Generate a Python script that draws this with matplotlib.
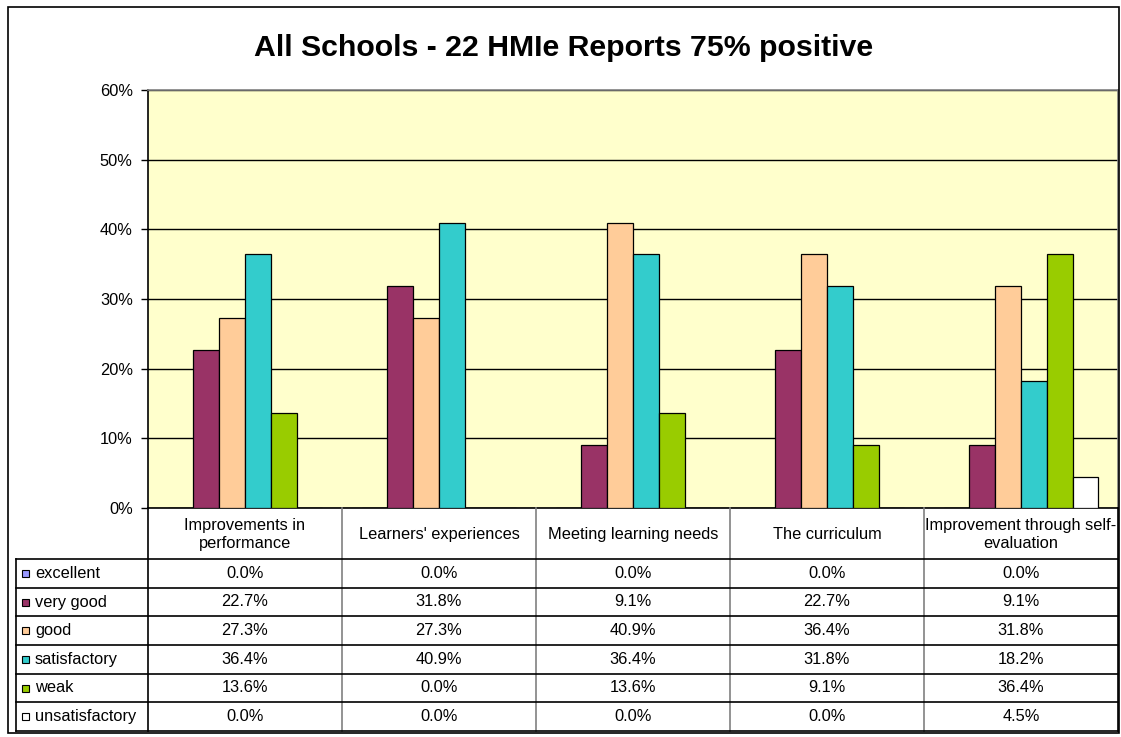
import matplotlib.pyplot as plt
from matplotlib.patches import Rectangle

plt.rcParams['font.family'] = ['Liberation Sans', 'DejaVu Sans']

# data
categories = ["Improvements in\nperformance", "Learners' experiences", "Meeting learning needs",
              "The curriculum", "Improvement through self-\nevaluation"]
grades = ["excellent", "very good", "good", "satisfactory", "weak", "unsatisfactory"]
excellent = [0.0, 0.0, 0.0, 0.0, 0.0]
very_good = [22.7, 31.8, 9.1, 22.7, 9.1]
good = [27.3, 27.3, 40.9, 36.4, 31.8]
satisfactory = [36.4, 40.9, 36.4, 31.8, 18.2]
weak = [13.6, 0.0, 13.6, 9.1, 36.4]
unsatisfactory = [0.0, 0.0, 0.0, 0.0, 4.5]
series = [excellent, very_good, good, satisfactory, weak, unsatisfactory]
colors = ["#9999FF", "#993366", "#FFCC99", "#33CCCC", "#99CC00", "#FFFFFF"]
title = "All Schools - 22 HMIe Reports 75% positive"

W, H = 1121, 737
fig = plt.figure(figsize=(W / 100, H / 100), dpi=100)
FS = 11.8

# plot area
left, right, top, bottom = 148, 1118, 90, 508
ax = fig.add_axes([left / W, 1 - bottom / H, (right - left) / W, (bottom - top) / H])
ax.set_facecolor("#FFFFCC")
n = len(categories)
bw = 0.133
for j, vals in enumerate(series):
    xs = [i + 0.5 + (j - 2.5) * bw for i in range(n)]
    ax.bar(xs, vals, width=bw, color=colors[j], edgecolor="black", linewidth=0.9, zorder=3)
ax.set_xlim(0, n)
ax.set_ylim(0, 60)
ax.set_yticks(range(0, 61, 10))
ax.set_yticklabels([f"{t}%" for t in range(0, 61, 10)], fontsize=FS)
ax.set_xticks([])
ax.yaxis.grid(True, color="black", linewidth=1, zorder=1)
ax.tick_params(axis="y", length=5, width=1, direction="out", pad=6)
ax.spines["left"].set_color("black")
ax.spines["bottom"].set_color("black")
ax.spines["top"].set_color("#808080")
ax.spines["right"].set_color("#808080")
for s in ax.spines.values():
    s.set_linewidth(1.2)

# overlay for title, table, border (pixel coords)
tax = fig.add_axes([0, 0, 1, 1], zorder=5)
tax.set_xlim(0, W)
tax.set_ylim(H, 0)
tax.axis("off")
tax.patch.set_alpha(0)

tax.add_patch(Rectangle((8, 7), 1111, 726, fill=False, edgecolor="black", linewidth=1.2))
tax.text(564, 48, title, fontsize=21.8, fontweight="bold", ha="center", va="center")

col_w = (right - left) / n
row_top = 559
row_h = (731 - 559) / len(grades)
tab_left = 16

# vertical lines
for i in range(n + 1):
    xx = left + i * col_w
    c = "black" if i in (0, n) else "#808080"
    tax.plot([xx, xx], [bottom, 731], color=c, linewidth=1.2)
tax.plot([tab_left, tab_left], [row_top, 731], color="black", linewidth=1.2)
# horizontal lines
tax.plot([tab_left, right], [row_top, row_top], color="black", linewidth=1.2)
for r in range(1, len(grades) + 1):
    yy = row_top + r * row_h
    tax.plot([tab_left, right], [yy, yy], color="black", linewidth=1.2)

# header
for i, cat in enumerate(categories):
    tax.text(left + (i + 0.5) * col_w, (bottom + row_top) / 2 + 1, cat, fontsize=FS,
             ha="center", va="center", linespacing=1.3)

# rows
for r, g in enumerate(grades):
    yc = row_top + (r + 0.5) * row_h
    tax.add_patch(Rectangle((22, yc - 3.5), 7, 7, facecolor=colors[r], edgecolor="black", linewidth=0.8))
    tax.text(35, yc, g, fontsize=FS, ha="left", va="center")
    for i in range(n):
        tax.text(left + (i + 0.5) * col_w, yc, f"{series[r][i]:.1f}%", fontsize=FS,
                 ha="center", va="center")

fig.savefig("out.png", dpi=100)
